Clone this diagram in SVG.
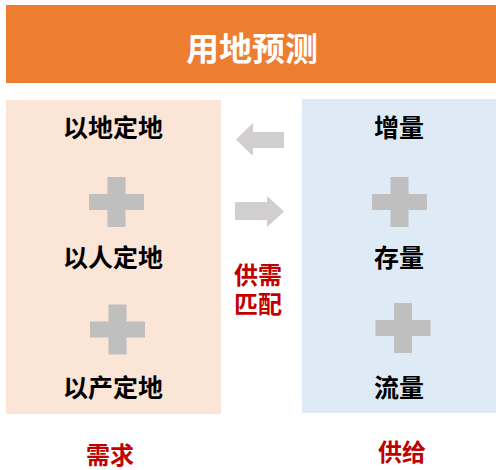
<svg xmlns="http://www.w3.org/2000/svg" width="496" height="470" viewBox="0 0 496 470">
<defs>
<style>
.t{font-family:"Noto Sans CJK SC","Noto Sans",sans-serif;font-weight:bold;text-anchor:middle}
.k{fill:#000;font-size:25px}
.r{fill:#C00000;font-size:24px}
.plus{fill:#BFBFBF}
.arr{fill:#D0CECE}
</style>
<path id="plus" d="M-9,-25 H9 V-8 H27.5 V8 H9 V25 H-9 V8 H-27.5 V-8 H-9 Z"/>
</defs>
<rect width="496" height="470" fill="#FFFFFF"/>
<g id="header">
<rect x="6" y="5" width="490" height="78" fill="#ED7D31"/>
<text class="t" x="252" y="61" fill="#FFFFFF" font-size="33">用地预测</text>
</g>
<g id="demand">
<rect x="6" y="100" width="215" height="314" fill="#FBE5D6"/>
<text class="t k" x="113" y="137">以地定地</text>
<use href="#plus" class="plus" x="116.5" y="202"/>
<text class="t k" x="113" y="267">以人定地</text>
<use href="#plus" class="plus" x="117.5" y="329.5"/>
<text class="t k" x="113" y="397">以产定地</text>
</g>
<g id="supply">
<rect x="302" y="99" width="194" height="314" fill="#DEEBF7"/>
<text class="t k" x="399" y="137">增量</text>
<use href="#plus" class="plus" x="399.5" y="202"/>
<text class="t k" x="399" y="267">存量</text>
<use href="#plus" class="plus" x="403" y="328"/>
<text class="t k" x="399" y="397">流量</text>
</g>
<g id="connectors">
<path class="arr" d="M236,139.5 L253,123 V132 H284 V148 H253 V156 Z"/>
<path class="arr" d="M284,211.5 L267,196 V202 H235 V220 H267 V227 Z"/>
</g>
<g id="match">
<text class="t r"><tspan x="258" y="284">供需</tspan><tspan x="258" y="313">匹配</tspan></text>
</g>
<g id="labels">
<text class="t r" x="110" y="464">需求</text>
<text class="t r" x="402" y="461">供给</text>
</g>
</svg>
